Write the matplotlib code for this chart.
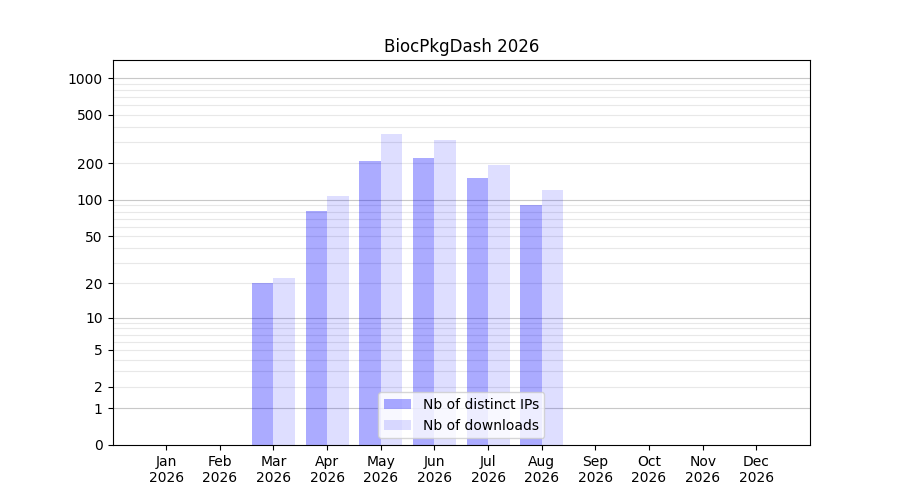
import numpy as np
import matplotlib
matplotlib.use('Agg')
from matplotlib import pyplot as plt

months = ['Jan', 'Feb', 'Mar', 'Apr', 'May', 'Jun', 'Jul', 'Aug', 'Sep', 'Oct', 'Nov', 'Dec']
year = 2026
nb_ips = [0, 0, 20, 81, 210, 222, 152, 91, 0, 0, 0, 0]
nb_downloads = [0, 0, 22, 108, 348, 311, 194, 120, 0, 0, 0, 0]
ytick_vals = [0, 1, 2, 5, 10, 20, 50, 100, 200, 500, 1000]


def fwd(v):
    return np.log10(1 + np.clip(np.asarray(v, dtype=float), 0, None))


def inv(v):
    return 10 ** np.asarray(v, dtype=float) - 1


fig, ax = plt.subplots(figsize=(9, 5), dpi=100)
ax.set_yscale('function', functions=(fwd, inv))

x = np.arange(1, 13)
ax.bar(x - 0.2, nb_ips, width=0.4, color='blue', alpha=0.33, label='Nb of distinct IPs')
ax.bar(x + 0.2, nb_downloads, width=0.4, color='blue', alpha=0.13, label='Nb of downloads')

# light grid at every 1..9 x 10^k, darker at powers of ten
for k in range(3):
    for m in range(2, 10):
        ax.axhline(m * 10 ** k, color='#e8e8e8', lw=0.8, zorder=0.5)
for p in [1, 10, 100, 1000]:
    ax.axhline(p, color='#c8c8c8', lw=0.8, zorder=0.5)

ax.set_yticks(ytick_vals)
ax.set_yticklabels([str(v) for v in ytick_vals])
ax.yaxis.set_minor_locator(matplotlib.ticker.NullLocator())
ax.set_ylim(0, 1405)
ax.set_xlim(0, 13)
ax.set_xticks(x)
ax.set_xticklabels([f'{m}\n{year}' for m in months])
ax.set_title(f'BiocPkgDash {year}')
ax.legend(loc='lower center')

fig.savefig('out.png')
